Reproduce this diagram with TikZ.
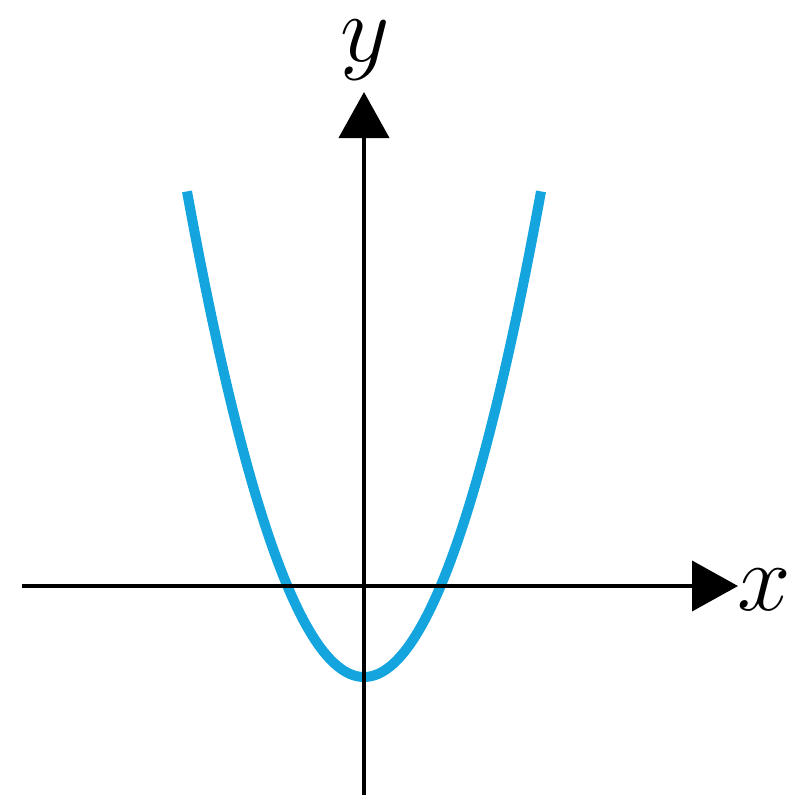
\documentclass[tikz,border=0pt]{standalone}
\usetikzlibrary{arrows.meta}
\definecolor{curvecyan}{RGB}{20,165,222}
\begin{document}
\begin{tikzpicture}[x=1pt,y=-1pt,
  axis/.style={line width=4pt,-{Triangle[length=46pt,width=50pt]}},
  curve/.style={line width=10pt,curvecyan},
  lbl/.style={font=\Huge,scale=3.86,inner sep=0pt,anchor=base}]
\useasboundingbox (0,0) rectangle (801,811);
\coordinate (xL) at (22,586);
\coordinate (xR) at (738,586);
\coordinate (yB) at (364,795);
\coordinate (yT) at (364,92);
\draw[curve] plot[domain=-177:177,samples=120,smooth] ({364+\x},{677-1.55*((\x)/10)*((\x)/10)});
\draw[axis] (xL) -- (xR);
\draw[axis] (yB) -- (yT);
\node[lbl] (xlab) at (764,610) {$x$};
\node[lbl] (ylab) at (365,61) {$y$};
\end{tikzpicture}
\end{document}
